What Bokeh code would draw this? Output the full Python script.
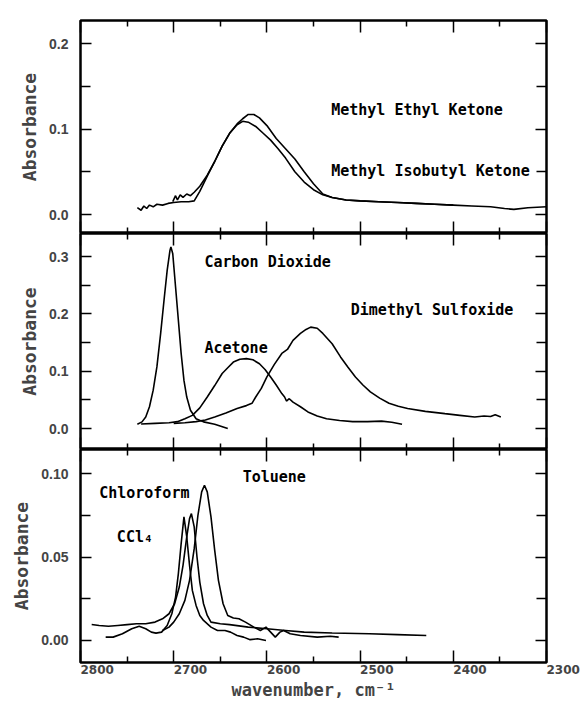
from bokeh.plotting import figure
from bokeh.models import Range1d, LinearAxis, FixedTicker, Label, PrintfTickFormatter
from bokeh.layouts import column
from bokeh.embed import file_html
from bokeh.resources import INLINE

# ---------------- data ----------------
# Panel 1
mek_w = [2739, 2735, 2732, 2729, 2726, 2722, 2718, 2712, 2706, 2700, 2692, 2684, 2678,
         2672, 2664, 2656, 2648, 2640, 2632, 2626, 2620, 2614, 2608, 2600, 2590, 2580,
         2570, 2560, 2550, 2540, 2530, 2515, 2500, 2480, 2460, 2440, 2420, 2400, 2380,
         2360, 2345, 2335, 2320, 2300]
mek_a = [0.008, 0.005, 0.010, 0.007, 0.011, 0.009, 0.012, 0.011, 0.013, 0.014, 0.015, 0.015, 0.016,
         0.027, 0.045, 0.062, 0.080, 0.095, 0.106, 0.112, 0.117, 0.117, 0.113, 0.104, 0.089, 0.077,
         0.065, 0.050, 0.036, 0.024, 0.020, 0.017, 0.016, 0.015, 0.014, 0.013, 0.012, 0.011, 0.010,
         0.009, 0.007, 0.006, 0.008, 0.009]
mibk_w = [2701, 2698, 2696, 2693, 2690, 2686, 2682, 2678, 2672, 2664, 2656, 2648, 2640, 2632,
          2626, 2620, 2612, 2604, 2596, 2588, 2580, 2570, 2560, 2550, 2540, 2530, 2515, 2500,
          2480, 2460, 2440, 2420, 2400]
mibk_a = [0.015, 0.022, 0.017, 0.023, 0.020, 0.024, 0.022, 0.026, 0.033, 0.046, 0.062, 0.080, 0.095, 0.105,
          0.109, 0.108, 0.103, 0.095, 0.087, 0.077, 0.066, 0.050, 0.038, 0.029, 0.023, 0.020, 0.017, 0.016,
          0.015, 0.014, 0.013, 0.012, 0.011]

# Panel 2
co2_w = [2739, 2734, 2730, 2726, 2722, 2718, 2714, 2710, 2707, 2704, 2703, 2701, 2698, 2695,
         2692, 2689, 2686, 2682, 2676, 2668, 2656, 2642]
co2_a = [0.0076, 0.0116, 0.020, 0.038, 0.067, 0.108, 0.166, 0.230, 0.276, 0.311, 0.317, 0.305, 0.247, 0.189,
         0.131, 0.084, 0.055, 0.032, 0.017, 0.0116, 0.0076, 0.0]
acetone_w = [2735, 2720, 2705, 2696, 2688, 2680, 2672, 2664, 2656, 2648, 2642, 2636, 2629, 2622,
             2615, 2608, 2602, 2596, 2590, 2584, 2581, 2579, 2576, 2572, 2564, 2556, 2546, 2536,
             2522, 2508, 2492, 2477, 2466, 2455]
acetone_a = [0.008, 0.009, 0.010, 0.012, 0.017, 0.023, 0.036, 0.055, 0.075, 0.096, 0.106, 0.116, 0.121, 0.122,
             0.120, 0.113, 0.103, 0.090, 0.076, 0.061, 0.055, 0.048, 0.052, 0.046, 0.038, 0.029, 0.022, 0.017,
             0.014, 0.012, 0.012, 0.013, 0.011, 0.0075]
dmso_w = [2700, 2688, 2676, 2666, 2656, 2644, 2632, 2622, 2616, 2612, 2606, 2600, 2592, 2584,
          2578, 2572, 2564, 2558, 2553, 2546, 2540, 2530, 2521, 2513, 2505, 2497, 2489, 2479,
          2469, 2459, 2449, 2430, 2409, 2393, 2377, 2367, 2360, 2355, 2349]
dmso_a = [0.009, 0.010, 0.012, 0.015, 0.020, 0.027, 0.035, 0.040, 0.044, 0.055, 0.070, 0.090, 0.112, 0.131,
          0.138, 0.154, 0.166, 0.173, 0.177, 0.175, 0.166, 0.148, 0.125, 0.107, 0.090, 0.076, 0.064, 0.053,
          0.044, 0.039, 0.035, 0.030, 0.026, 0.023, 0.020, 0.022, 0.021, 0.024, 0.020]

# Panel 3
ccl4_w = [2773, 2765, 2755, 2745, 2737, 2730, 2724, 2719, 2713, 2707, 2702, 2698, 2695, 2692,
          2689, 2686, 2683, 2680, 2676, 2672, 2668, 2660, 2653, 2645, 2639, 2632, 2625, 2618,
          2610, 2601]
ccl4_a = [0.002, 0.002, 0.004, 0.007, 0.0085, 0.007, 0.005, 0.0044, 0.005, 0.009, 0.016, 0.026, 0.040, 0.058,
          0.074, 0.062, 0.045, 0.030, 0.021, 0.015, 0.012, 0.008, 0.006, 0.006, 0.005, 0.003, 0.002, 0.0005,
          0.001, 0.0]
chcl3_w = [2788, 2780, 2770, 2760, 2750, 2740, 2730, 2720, 2712, 2705, 2699, 2694, 2690, 2686,
           2683, 2681, 2678, 2675, 2672, 2668, 2664, 2660, 2650, 2640, 2620, 2600, 2580, 2560,
           2530, 2490, 2460, 2429]
chcl3_a = [0.0096, 0.009, 0.0085, 0.009, 0.0095, 0.010, 0.010, 0.011, 0.013, 0.016, 0.022, 0.032, 0.045, 0.062,
           0.073, 0.076, 0.068, 0.050, 0.035, 0.022, 0.015, 0.011, 0.010, 0.0095, 0.008, 0.007, 0.006, 0.005,
           0.0045, 0.004, 0.0035, 0.003]
toluene_w = [2712, 2705, 2700, 2694, 2688, 2683, 2678, 2674, 2670, 2667, 2664, 2660, 2656, 2652,
             2647, 2642, 2636, 2630, 2623, 2614, 2607, 2601, 2596, 2591, 2586, 2582, 2575, 2564,
             2546, 2532, 2523]
toluene_a = [0.006, 0.008, 0.011, 0.016, 0.024, 0.036, 0.055, 0.075, 0.089, 0.093, 0.089, 0.074, 0.054, 0.036,
             0.022, 0.015, 0.0135, 0.013, 0.011, 0.008, 0.006, 0.008, 0.005, 0.002, 0.005, 0.006, 0.004, 0.003,
             0.002, 0.0025, 0.002]

x_major = [2800, 2700, 2600, 2500, 2400, 2300]
x_minor = [2750, 2650, 2550, 2450, 2350]
x_tick_labels = ["2800", "2700", "2600", "2500", "2400", "2300"]

p1_major = [0.0, 0.1, 0.2]
p1_minor = [0.05, 0.15]
p2_major = [0.0, 0.1, 0.2, 0.3]
p2_minor = [0.05, 0.15, 0.25]
p3_major = [0.0, 0.05, 0.10]
p3_minor = [0.025, 0.075]

# ---------------- styling ----------------
TICK_FONT = "Liberation Sans"
XTICK_FONT = "DejaVu Sans"
TEXT_FONT = "DejaVu Sans Mono"
FIG_SPACE = "\u2007"
x_range = Range1d(2800, 2300)


def hide_labels(ax):
    ax.major_label_text_font_size = "0px"
    ax.major_label_text_color = None
    ax.major_label_standoff = 0


def x_axis(with_labels):
    ax = LinearAxis(ticker=FixedTicker(ticks=x_major, minor_ticks=x_minor),
                    major_tick_in=12, major_tick_out=0, minor_tick_in=6, minor_tick_out=0,
                    axis_line_color=None, major_tick_line_width=1.5, minor_tick_line_width=1.5)
    if with_labels:
        ax.major_label_text_font = XTICK_FONT
        ax.major_label_text_font_style = "bold"
        ax.major_label_text_font_size = "12px"
        # labels in the original start at their tick: pad on the left with figure spaces
        ax.major_label_overrides = {v: FIG_SPACE * len(s) + s for v, s in zip(x_major, x_tick_labels)}
        ax.major_label_standoff = 0
        ax.axis_label = "wavenumber, cm\u207b\u00b9"
        ax.axis_label_text_font = TEXT_FONT
        ax.axis_label_text_font_style = "bold"
        ax.axis_label_text_font_size = "17px"
        ax.axis_label_standoff = 0
    else:
        hide_labels(ax)
    return ax


def y_axis(major, minor, fmt, with_labels):
    ax = LinearAxis(ticker=FixedTicker(ticks=major, minor_ticks=minor),
                    major_tick_in=11, major_tick_out=0, minor_tick_in=10, minor_tick_out=0,
                    axis_line_color=None, major_tick_line_width=1.5, minor_tick_line_width=1.5,
                    formatter=PrintfTickFormatter(format=fmt))
    if with_labels:
        ax.major_label_text_font = TICK_FONT
        ax.major_label_text_font_style = "bold"
        ax.major_label_text_font_size = "14px"
        ax.major_label_standoff = 12
        ax.axis_label = "Absorbance"
        ax.axis_label_text_font = TEXT_FONT
        ax.axis_label_text_font_style = "bold"
        ax.axis_label_text_font_size = "18px"
        ax.axis_label_standoff = 6
    else:
        hide_labels(ax)
    return ax


def panel(height, yr, major, minor, fmt, top, bottom, labels_below):
    p = figure(width=581, height=height, x_range=x_range, y_range=Range1d(*yr),
               x_axis_location=None, y_axis_location=None,
               output_backend="svg", toolbar_location=None,
               min_border_left=80, min_border_right=35,
               min_border_top=top, min_border_bottom=bottom)
    p.grid.visible = False
    p.outline_line_color = "black"
    p.outline_line_width = 2.5
    p.background_fill_color = "white"
    p.border_fill_color = "white"
    p.add_layout(y_axis(major, minor, fmt, True), "left")
    p.add_layout(y_axis(major, minor, fmt, False), "right")
    p.add_layout(x_axis(False), "above")
    p.add_layout(x_axis(labels_below), "below")
    return p


def note(p, x, y, text):
    p.add_layout(Label(x=x, y=y, text=text, text_font=TEXT_FONT, text_font_style="bold",
                       text_font_size="15px", text_baseline="middle", text_align="left",
                       text_color="black"))


LW = 1.6

p1 = panel(233, (-0.0222, 0.2269), p1_major, p1_minor, "%.1f", 20, 0, False)
p1.line(mek_w, mek_a, line_color="black", line_width=LW)
p1.line(mibk_w, mibk_a, line_color="black", line_width=LW)
note(p1, 2531, 0.1226, "Methyl Ethyl Ketone")
note(p1, 2531, 0.0506, "Methyl Isobutyl Ketone")

p2 = panel(216, (-0.0366, 0.3404), p2_major, p2_minor, "%.1f", 0, 0, False)
p2.line(co2_w, co2_a, line_color="black", line_width=LW)
p2.line(acetone_w, acetone_a, line_color="black", line_width=LW)
p2.line(dmso_w, dmso_a, line_color="black", line_width=LW)
note(p2, 2667, 0.291, "Carbon Dioxide")
note(p2, 2510, 0.2076, "Dimethyl Sulfoxide")
note(p2, 2667, 0.1407, "Acetone")

p3 = panel(253, (-0.0132, 0.1144), p3_major, p3_minor, "%.2f", 0, 40, True)
p3.line(ccl4_w, ccl4_a, line_color="black", line_width=LW)
p3.line(chcl3_w, chcl3_a, line_color="black", line_width=LW)
p3.line(toluene_w, toluene_a, line_color="black", line_width=LW)
note(p3, 2626, 0.098, "Toluene")
note(p3, 2780, 0.0882, "Chloroform")
note(p3, 2761, 0.0622, "CCl\u2084")

layout = column(p1, p2, p3, spacing=0)
open("out.html", "w").write(file_html(layout, INLINE))
